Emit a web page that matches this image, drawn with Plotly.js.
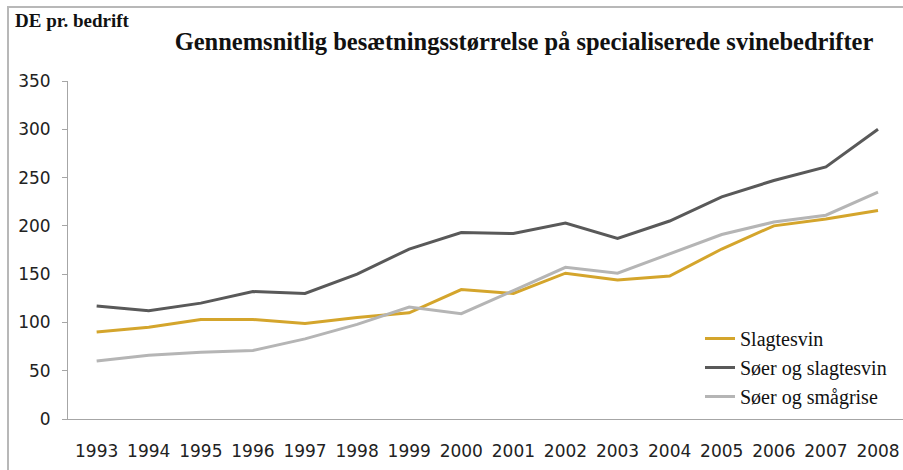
<!DOCTYPE html>
<html>
<head>
<meta charset="utf-8">
<script src="https://cdn.plot.ly/plotly-3.0.1.min.js"></script>
<style>
html,body{margin:0;padding:0;background:#fff;}
#frame{position:absolute;left:7px;top:6px;width:896px;height:464px;border-left:2px solid #b8b8b8;border-top:2px solid #b8b8b8;pointer-events:none;z-index:5;}
#chart{position:absolute;left:0;top:0;width:903px;height:470px;}
</style>
</head>
<body>
<div id="chart"></div>
<div id="frame"></div>
<script>
const years = ["1993","1994","1995","1996","1997","1998","1999","2000","2001","2002","2003","2004","2005","2006","2007","2008"];
const slagtesvin = [90, 95, 103, 103, 99, 105, 110, 134, 130, 151, 144, 148, 176, 200, 207, 216];
const soerSlagtesvin = [117, 112, 120, 132, 130, 150, 176, 193, 192, 203, 187, 205, 230, 247, 261, 300];
const soerSmaagrise = [60, 66, 69, 71, 83, 98, 116, 109, 133, 157, 151, 171, 191, 204, 211, 235];
const seriesNames = ["Slagtesvin", "Søer og slagtesvin", "Søer og smågrise"];
const yTicks = [0, 50, 100, 150, 200, 250, 300, 350];

const colors = ["#D4A52C", "#595959", "#B5B5B5"];
const data = [slagtesvin, soerSlagtesvin, soerSmaagrise].map((v, i) => ({
  type: "scatter", mode: "lines", x: years, y: v, name: seriesNames[i],
  legendgroup: "g" + i,
  line: {color: colors[i], width: 3}
}));

const layout = {
  width: 903, height: 470,
  margin: {l: 68, r: 0, t: 81, b: 51},
  paper_bgcolor: "rgba(0,0,0,0)", plot_bgcolor: "rgba(0,0,0,0)",
  title: {
    text: "Gennemsnitlig besætningsstørrelse på specialiserede svinebedrifter",
    font: {family: "Liberation Serif", size: 24.5, color: "#111", weight: "bold"},
    x: 524/903, xanchor: "center", xref: "container",
    y: 1 - 41/470, yanchor: "middle", yref: "container"
  },
  xaxis: {
    type: "category", range: [-0.55, 15.48], showgrid: false, showline: true, linecolor: "#a6a6a6", linewidth: 1,
    ticks: "", ticklabelstandoff: 17, zeroline: false,
    tickfont: {family: "DejaVu Sans", size: 17, color: "#222"}
  },
  yaxis: {
    range: [0, 350], tickvals: yTicks, showgrid: false, showline: true, linecolor: "#a6a6a6", linewidth: 1,
    ticks: "outside", ticklen: 5, tickcolor: "#a6a6a6", zeroline: false,
    ticklabelstandoff: 8,
    tickfont: {family: "DejaVu Sans", size: 17, color: "#222"}
  },
  showlegend: true,
  legend: {
    x: (700 - 68) / 835, xanchor: "left", y: (419 - 319) / 338, yanchor: "top",
    bgcolor: "rgba(0,0,0,0)", borderwidth: 0, tracegroupgap: 0,
    font: {family: "Liberation Serif", size: 20, color: "#111"}
  },
  annotations: [{
    text: "<b>DE pr. bedrift</b>", xref: "paper", yref: "paper",
    x: (13 - 68) / 835, xanchor: "left", y: 1 + (81 - 21) / 338, yanchor: "middle",
    showarrow: false, font: {family: "Liberation Serif", size: 19, color: "#111"}
  }]
};

Plotly.newPlot("chart", data, layout, {displayModeBar: false, staticPlot: true});
</script>
</body>
</html>
